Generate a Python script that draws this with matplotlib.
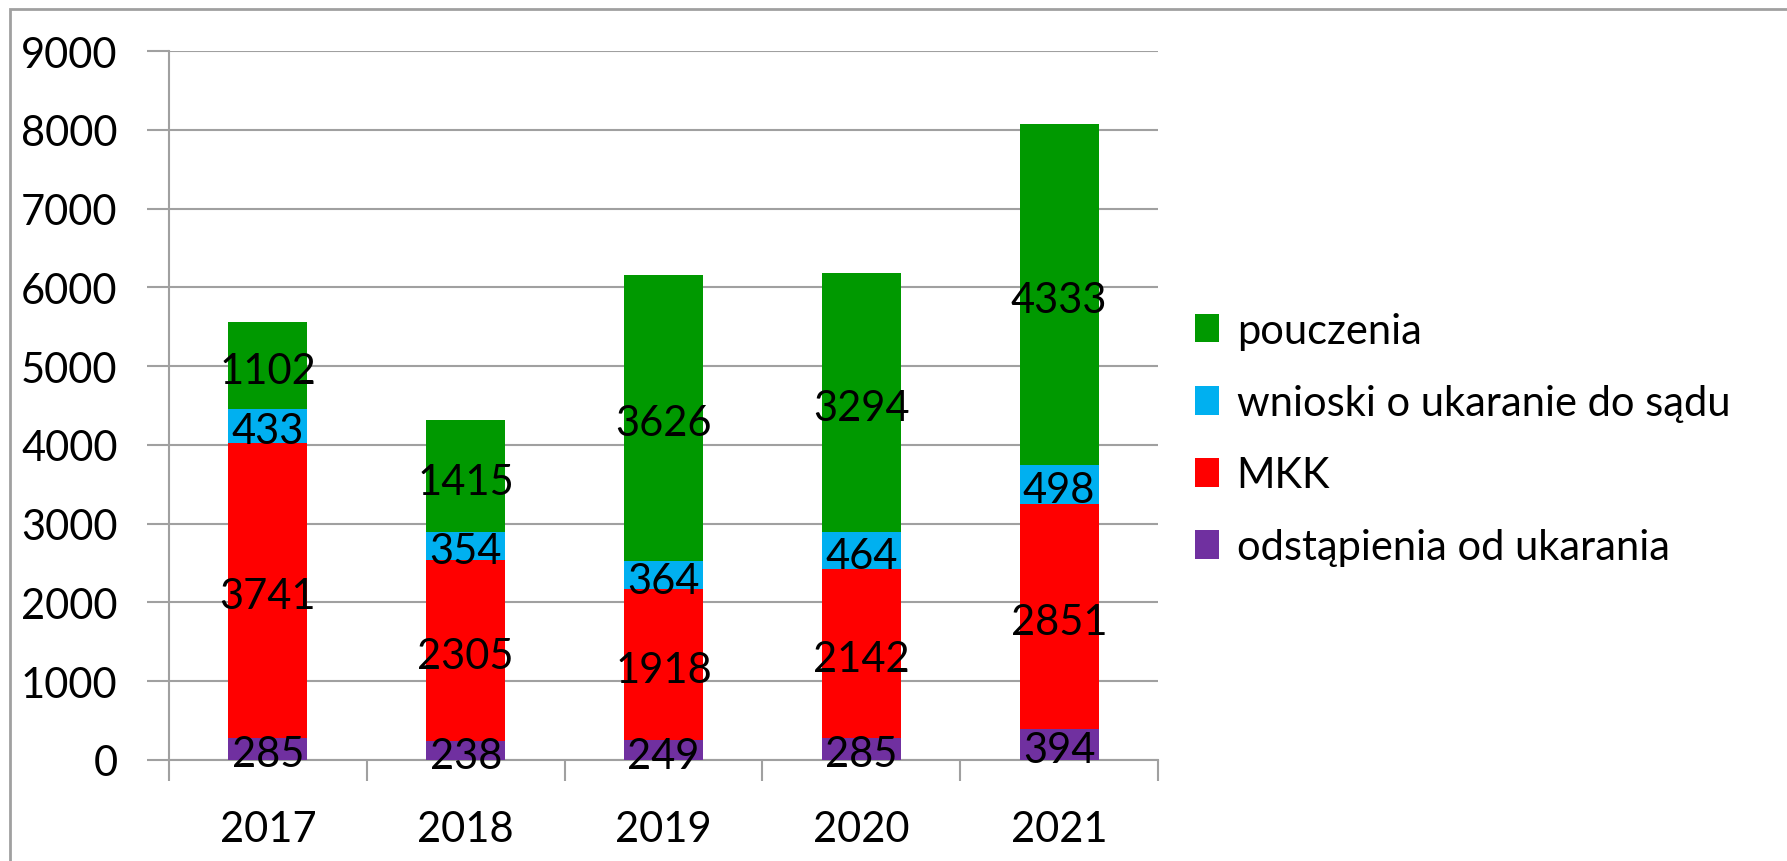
import matplotlib.pyplot as plt
from matplotlib.patches import Rectangle
import numpy as np

plt.rcParams['font.family'] = ['Lato', 'DejaVu Sans']

years = ['2017', '2018', '2019', '2020', '2021']
odstapienia = [285, 238, 249, 285, 394]
mkk = [3741, 2305, 1918, 2142, 2851]
wnioski = [433, 354, 364, 464, 498]
pouczenia = [1102, 1415, 3626, 3294, 4333]

series = [
    ('odstąpienia od ukarania', odstapienia, '#7030A0'),
    ('MKK', mkk, '#FF0000'),
    ('wnioski o ukaranie do sądu', wnioski, '#00B0F0'),
    ('pouczenia', pouczenia, '#009900'),
]

W, H = 1787, 862
fig = plt.figure(figsize=(W / 100, H / 100), dpi=100)
ax = fig.add_axes([169 / W, 1 - 761 / H, (1158 - 169) / W, (761 - 52) / H])

x = np.arange(len(years))
bottom = np.zeros(len(years))
handles = []
for name, vals, col in series:
    vals = np.array(vals, dtype=float)
    b = ax.bar(x, vals, 0.4, bottom=bottom, color=col, label=name, zorder=3)
    handles.append(b)
    for xi, bi, v in zip(x, bottom, vals):
        ax.annotate(str(int(v)), (xi, bi + v / 2), xytext=(0, -4), textcoords='offset points',
                    ha='center', va='center', fontsize=30, color='black', zorder=4)
    bottom += vals

ax.set_xlim(-0.5, len(years) - 0.5)
ax.set_ylim(0, 9000)
ax.set_yticks(range(0, 9001, 1000))
ax.yaxis.grid(True, color='#A0A0A0', linewidth=1.5, zorder=0)
ax.set_xticks(x)
ax.set_xticklabels(years)
ax.set_xticks(np.arange(-0.5, len(years), 1.0), minor=True)
ax.tick_params(axis='x', which='major', length=0, pad=36, labelsize=30)
ax.tick_params(axis='x', which='minor', length=15, width=1.5, color='#A0A0A0')
ax.tick_params(axis='y', length=16, width=1.5, color='#A0A0A0', pad=21, labelsize=30)
for s in ['top', 'right']:
    ax.spines[s].set_visible(False)
ax.spines['left'].set_color('#A0A0A0')
ax.spines['left'].set_linewidth(1.5)
ax.spines['bottom'].set_color('#A0A0A0')
ax.spines['bottom'].set_linewidth(1.5)

leg = fig.legend(handles[::-1], [s[0] for s in series][::-1],
                 loc='center left', bbox_to_anchor=(1195 / W, 1 - 440 / H),
                 borderaxespad=0, borderpad=0,
                 frameon=False, fontsize=30, handlelength=0.58, handleheight=0.68,
                 handletextpad=0.42, labelspacing=0.82)

fig.patches.append(Rectangle((10 / W, -0.05), 1.2, 1.05 - 10 / H, transform=fig.transFigure,
                             fill=False, edgecolor='#A0A0A0', linewidth=2))

fig.savefig('out.png', dpi=100)
